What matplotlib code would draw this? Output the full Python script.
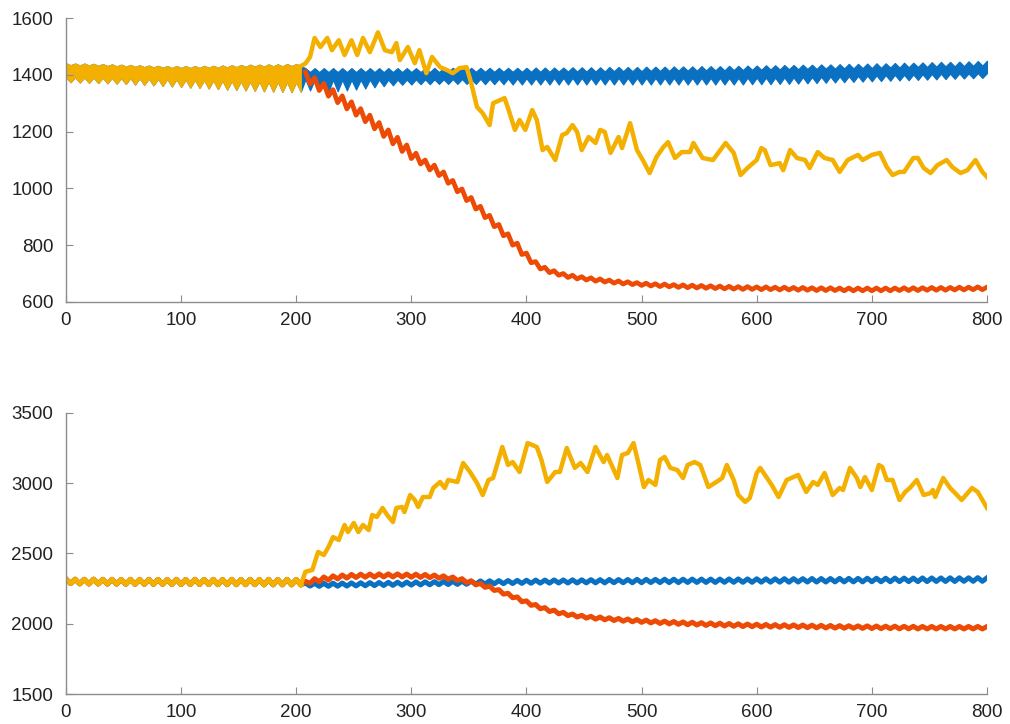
import matplotlib.pyplot as plt
import numpy as np

# ---- top panel ----
# warm-up part (all three runs identical before t ~ 205), x = 0, 4, ..., 204
# the signal swings so fast it shows as a band: upper and lower edge of it
pre_top_hi = [
    1441, 1434, 1440, 1433, 1440, 1433, 1439, 1432, 1438, 1431,
    1437, 1430, 1436, 1429, 1435, 1428, 1434, 1427, 1433, 1426,
    1432, 1425, 1431, 1424, 1431, 1424, 1431, 1424, 1431, 1424,
    1432, 1425, 1432, 1425, 1433, 1426, 1434, 1427, 1435, 1428,
    1436, 1429, 1436, 1429, 1437, 1430, 1437, 1430, 1438, 1431,
    1438, 1431,
]
pre_top_lo = [
    1392, 1374, 1392, 1373, 1391, 1372, 1391, 1371, 1390, 1370,
    1390, 1369, 1389, 1368, 1389, 1366, 1388, 1365, 1387, 1363,
    1386, 1361, 1386, 1359, 1385, 1357, 1384, 1355, 1383, 1354,
    1382, 1352, 1381, 1350, 1380, 1348, 1379, 1347, 1378, 1345,
    1377, 1344, 1377, 1342, 1376, 1341, 1376, 1340, 1375, 1339,
    1375, 1340,
]

# after the split, x = 208, 212, ..., 800
blue_top_hi = [
    1424, 1410, 1424, 1410, 1424, 1410, 1424, 1410, 1424, 1410,
    1424, 1410, 1424, 1410, 1424, 1410, 1424, 1410, 1424, 1410,
    1424, 1410, 1424, 1410, 1424, 1410, 1424, 1410, 1425, 1410,
    1425, 1410, 1425, 1411, 1425, 1411, 1425, 1411, 1425, 1411,
    1425, 1411, 1425, 1411, 1425, 1411, 1425, 1411, 1425, 1411,
    1426, 1411, 1426, 1411, 1426, 1412, 1426, 1412, 1427, 1412,
    1427, 1412, 1427, 1412, 1427, 1412, 1428, 1413, 1428, 1413,
    1428, 1413, 1428, 1413, 1429, 1414, 1429, 1414, 1429, 1414,
    1430, 1415, 1430, 1415, 1430, 1415, 1431, 1416, 1431, 1416,
    1431, 1416, 1432, 1417, 1432, 1417, 1433, 1418, 1433, 1418,
    1434, 1419, 1434, 1419, 1435, 1420, 1435, 1420, 1436, 1421,
    1436, 1421, 1437, 1422, 1437, 1422, 1438, 1423, 1439, 1423,
    1439, 1424, 1440, 1424, 1441, 1425, 1441, 1426, 1442, 1426,
    1443, 1427, 1443, 1428, 1444, 1428, 1445, 1429, 1446, 1430,
    1446, 1430, 1447, 1431, 1448, 1432, 1449, 1433, 1450,
]
blue_top_lo = [
    1384, 1345, 1383, 1342, 1382, 1341, 1382, 1342, 1382, 1345,
    1382, 1348, 1382, 1352, 1383, 1356, 1383, 1360, 1383, 1363,
    1383, 1365, 1383, 1366, 1384, 1367, 1384, 1367, 1384, 1368,
    1384, 1368, 1385, 1368, 1385, 1368, 1385, 1368, 1386, 1367,
    1386, 1367, 1386, 1367, 1387, 1366, 1387, 1366, 1388, 1366,
    1388, 1366, 1388, 1366, 1389, 1366, 1389, 1366, 1389, 1366,
    1389, 1366, 1389, 1366, 1389, 1366, 1389, 1366, 1389, 1366,
    1389, 1366, 1389, 1366, 1389, 1366, 1389, 1366, 1389, 1366,
    1389, 1366, 1389, 1366, 1389, 1366, 1389, 1366, 1389, 1366,
    1389, 1366, 1389, 1366, 1389, 1366, 1390, 1367, 1390, 1367,
    1390, 1367, 1390, 1368, 1391, 1368, 1391, 1369, 1392, 1370,
    1392, 1371, 1393, 1372, 1394, 1373, 1394, 1374, 1395, 1375,
    1396, 1376, 1397, 1377, 1398, 1378, 1399, 1379, 1400, 1380,
    1400, 1381, 1401, 1382, 1402, 1383, 1403, 1384, 1404, 1385,
    1404, 1386, 1405, 1387, 1405, 1388, 1406, 1389, 1406,
]
red_top = [
    1410, 1368, 1390, 1345, 1370, 1325, 1348, 1302, 1326, 1280,
    1305, 1258, 1281, 1235, 1258, 1210, 1232, 1183, 1206, 1157,
    1180, 1130, 1153, 1105, 1124, 1086, 1100, 1065, 1082, 1045,
    1058, 1018, 1028, 988, 998, 957, 968, 927, 937, 897,
    905, 865, 873, 833, 840, 800, 807, 767, 772, 738,
    742, 716, 722, 703, 710, 694, 700, 686, 694, 681,
    689, 677, 685, 673, 681, 670, 677, 666, 674, 663,
    671, 661, 668, 658, 666, 656, 664, 654, 663, 653,
    661, 651, 660, 650, 659, 649, 658, 648, 657, 647,
    656, 646, 655, 645, 654, 644, 654, 644, 653, 643,
    653, 643, 652, 642, 652, 642, 651, 641, 651, 641,
    650, 640, 650, 640, 650, 640, 649, 639, 649, 639,
    649, 639, 649, 639, 649, 639, 649, 639, 649, 640,
    650, 640, 650, 640, 650, 641, 651, 641, 651, 641,
    651, 642, 652, 642, 652, 643, 653, 643, 652,
]
yel_top_x = [
    208, 212, 216, 221, 227, 231, 237, 242, 248, 253,
    258, 264, 271, 277, 283, 287, 290, 297, 303, 307,
    313, 318, 325, 331, 336, 342, 348, 352, 357, 362,
    368, 371, 377, 381, 384, 390, 394, 399, 405, 409,
    414, 418, 425, 431, 435, 440, 444, 448, 454, 460,
    464, 468, 473, 480, 483, 490, 496, 501, 507, 513,
    519, 523, 529, 535, 542, 545, 553, 562, 573, 580,
    586, 592, 600, 604, 607, 612, 620, 623, 629, 635,
    642, 646, 653, 659, 666, 672, 679, 688, 692, 700,
    707, 713, 718, 724, 728, 736, 740, 745, 751, 757,
    765, 770, 777, 783, 790, 796, 800,
]
yel_top_y = [
    1440, 1463, 1530, 1498, 1530, 1487, 1522, 1470, 1522, 1470,
    1530, 1480, 1550, 1487, 1480, 1512, 1452, 1498, 1441, 1487,
    1406, 1463, 1427, 1417, 1406, 1424, 1427, 1371, 1287, 1265,
    1223, 1300, 1311, 1318, 1283, 1206, 1241, 1206, 1276, 1241,
    1135, 1146, 1100, 1188, 1195, 1223, 1199, 1135, 1181, 1160,
    1206, 1199, 1125, 1181, 1142, 1230, 1135, 1100, 1054, 1111,
    1146, 1163, 1107, 1128, 1128, 1160, 1107, 1100, 1160, 1125,
    1047, 1072, 1100, 1142, 1135, 1082, 1089, 1064, 1135, 1107,
    1100, 1072, 1128, 1107, 1100, 1058, 1100, 1118, 1100, 1118,
    1125, 1075, 1047, 1058, 1058, 1107, 1107, 1072, 1054, 1082,
    1100, 1075, 1054, 1064, 1100, 1058, 1040,
]

# ---- bottom panel ----
pre_bot = [
    2319, 2286, 2317, 2284, 2316, 2283, 2317, 2283, 2316, 2282,
    2316, 2282, 2315, 2281, 2316, 2281, 2315, 2281, 2316, 2280,
    2315, 2280, 2315, 2280, 2316, 2279, 2315, 2279, 2316, 2279,
    2315, 2279, 2316, 2278, 2315, 2278, 2316, 2278, 2315, 2278,
    2316, 2278, 2315, 2277, 2316, 2277, 2315, 2277, 2316, 2277,
    2315, 2277,
]
blue_bot = [
    2290, 2268, 2288, 2266, 2288, 2266, 2289, 2267, 2290, 2268,
    2291, 2269, 2292, 2270, 2293, 2271, 2294, 2272, 2295, 2273,
    2296, 2274, 2297, 2275, 2298, 2276, 2299, 2277, 2300, 2278,
    2301, 2279, 2302, 2280, 2303, 2281, 2304, 2282, 2305, 2283,
    2306, 2284, 2307, 2285, 2308, 2286, 2309, 2287, 2310, 2288,
    2311, 2289, 2311, 2289, 2312, 2290, 2312, 2290, 2313, 2290,
    2313, 2291, 2314, 2291, 2314, 2291, 2315, 2292, 2315, 2292,
    2315, 2292, 2316, 2292, 2316, 2293, 2316, 2293, 2317, 2293,
    2317, 2293, 2317, 2294, 2318, 2294, 2318, 2294, 2318, 2294,
    2318, 2295, 2319, 2295, 2319, 2295, 2319, 2295, 2320, 2296,
    2320, 2296, 2320, 2296, 2321, 2296, 2321, 2297, 2321, 2297,
    2322, 2297, 2322, 2297, 2322, 2298, 2323, 2298, 2323, 2298,
    2323, 2298, 2324, 2299, 2324, 2299, 2324, 2299, 2325, 2300,
    2325, 2300, 2325, 2300, 2326, 2300, 2326, 2301, 2326, 2301,
    2327, 2301, 2327, 2302, 2327, 2302, 2328, 2302, 2327,
]
red_bot = [
    2302, 2288, 2321, 2299, 2333, 2311, 2341, 2319, 2347, 2325,
    2351, 2329, 2353, 2331, 2354, 2332, 2355, 2333, 2355, 2333,
    2355, 2333, 2354, 2331, 2353, 2330, 2351, 2328, 2347, 2324,
    2341, 2317, 2333, 2307, 2321, 2293, 2305, 2277, 2287, 2259,
    2267, 2237, 2243, 2211, 2217, 2185, 2191, 2157, 2163, 2131,
    2137, 2107, 2115, 2087, 2097, 2071, 2081, 2058, 2069, 2048,
    2060, 2040, 2053, 2033, 2048, 2028, 2043, 2023, 2038, 2018,
    2034, 2014, 2030, 2010, 2026, 2006, 2022, 2002, 2019, 1999,
    2016, 1996, 2013, 1993, 2011, 1991, 2008, 1988, 2006, 1986,
    2004, 1984, 2002, 1982, 2000, 1980, 1998, 1979, 1997, 1977,
    1995, 1976, 1994, 1975, 1993, 1974, 1992, 1973, 1991, 1972,
    1990, 1971, 1989, 1970, 1988, 1969, 1987, 1968, 1986, 1968,
    1985, 1967, 1985, 1966, 1984, 1965, 1983, 1965, 1983, 1964,
    1982, 1964, 1982, 1963, 1981, 1963, 1981, 1963, 1981, 1963,
    1981, 1963, 1981, 1963, 1981, 1963, 1981, 1963, 1980,
]
yel_bot_x = [
    208, 214, 219, 224, 228, 232, 237, 242, 245, 250,
    254, 258, 263, 266, 270, 275, 279, 284, 287, 292,
    294, 299, 303, 306, 310, 316, 319, 325, 329, 332,
    340, 345, 351, 357, 362, 367, 371, 379, 384, 388,
    394, 401, 409, 413, 418, 425, 429, 435, 442, 447,
    453, 460, 467, 470, 479, 483, 488, 493, 497, 502,
    506, 512, 516, 520, 525, 531, 536, 540, 546, 551,
    558, 565, 570, 574, 580, 584, 590, 594, 600, 603,
    609, 613, 619, 626, 636, 643, 649, 653, 659, 666,
    672, 675, 681, 687, 690, 694, 700, 706, 709, 713,
    718, 724, 729, 733, 739, 745, 751, 753, 755, 762,
    768, 774, 778, 787, 792, 797, 800,
]
yel_bot_y = [
    2370, 2383, 2511, 2489, 2546, 2617, 2596, 2703, 2653, 2717,
    2653, 2703, 2667, 2774, 2760, 2824, 2774, 2724, 2824, 2831,
    2795, 2916, 2881, 2831, 2902, 2902, 2966, 3009, 2966, 3023,
    3009, 3144, 3080, 3002, 2916, 3023, 3037, 3258, 3130, 3151,
    3080, 3286, 3258, 3166, 3009, 3080, 3080, 3251, 3109, 3144,
    3080, 3258, 3151, 3201, 3037, 3201, 3215, 3286, 3151, 2973,
    3023, 2988, 3166, 3187, 3109, 3094, 3037, 3130, 3151, 3130,
    2973, 3009, 3037, 3130, 3023, 2916, 2867, 2895, 3073, 3109,
    3037, 2988, 2902, 3023, 3059, 2938, 3009, 2988, 3073, 2916,
    2966, 2952, 3109, 3037, 2973, 3044, 2952, 3130, 3116, 3023,
    3023, 2881, 2938, 2966, 3023, 2916, 2930, 2952, 2902, 3037,
    2966, 2916, 2881, 2966, 2938, 2867, 2824,
]

x_pre = 4 * np.arange(len(pre_top_hi))
x_post = 208 + 4 * np.arange(len(blue_top_hi))
x_all = np.r_[x_pre, x_post]

c_blue = "#0A70C2"
c_red = "#EC4A05"
c_yel = "#F4B000"
grey = "#8c8c8c"

fig = plt.figure(figsize=(10.1, 7.24), dpi=100)
ax1 = fig.add_axes([0.0653, 0.583, 0.9119, 0.392])
ax2 = fig.add_axes([0.0653, 0.0414, 0.9119, 0.3882])

# top: blue band, red line, yellow band + line
ax1.fill_between(x_all, np.r_[pre_top_lo, blue_top_lo], np.r_[pre_top_hi, blue_top_hi],
                 color=c_blue, lw=0.8, edgecolor=c_blue)
ax1.plot(x_post, red_top, color=c_red, lw=3.4, solid_joinstyle="round")
ax1.fill_between(x_pre, pre_top_lo, pre_top_hi, color=c_yel, lw=0.8, edgecolor=c_yel)
ax1.plot(np.r_[x_pre[-1], yel_top_x], np.r_[pre_top_hi[-1], yel_top_y], color=c_yel, lw=3.2)

# bottom: all three as lines
ax2.plot(x_all, np.r_[pre_bot, blue_bot], color=c_blue, lw=3.6)
ax2.plot(x_all, np.r_[pre_bot, red_bot], color=c_red, lw=3.6)
ax2.plot(x_pre, pre_bot, color=c_yel, lw=3.6)
ax2.plot(np.r_[x_pre[-1], yel_bot_x], np.r_[pre_bot[-1], yel_bot_y], color=c_yel, lw=3.2)

for ax, ylim, yticks in [(ax1, (600, 1600), np.arange(600, 1601, 200)),
                         (ax2, (1500, 3500), np.arange(1500, 3501, 500))]:
    ax.set_xlim(0, 800)
    ax.set_ylim(*ylim)
    ax.set_xticks(np.arange(0, 801, 100))
    ax.set_yticks(yticks)
    for side in ["top", "right"]:
        ax.spines[side].set_visible(False)
    for side in ["left", "bottom"]:
        ax.spines[side].set_color(grey)
        ax.spines[side].set_linewidth(1.0)
    ax.tick_params(direction="in", length=5, color=grey, labelsize=13.5,
                   labelcolor="#222222")
    ax.tick_params(axis="y", pad=9)
    ax.tick_params(axis="x", pad=7.5)
    for lab in ax.get_xticklabels() + ax.get_yticklabels():
        lab.set_family("Liberation Sans")

fig.savefig("out.png", dpi=100)
